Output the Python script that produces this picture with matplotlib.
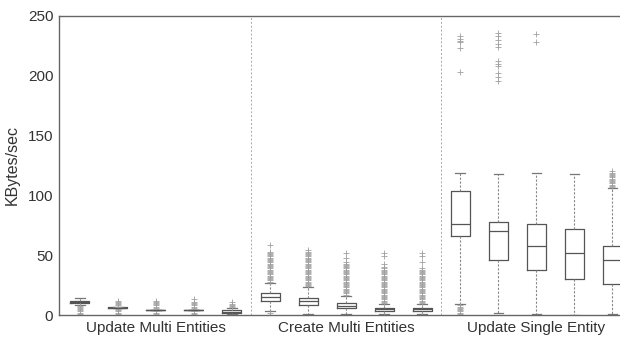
import matplotlib
matplotlib.use('Agg')
import matplotlib.pyplot as plt

plt.rcParams['font.family'] = ['Liberation Sans', 'DejaVu Sans']

GROUPS = ['Update Multi Entities', 'Create Multi Entities', 'Update Single Entity']

# five-number summaries per box, left to right
MEDIANS = [10.9, 6.0, 4.2, 4.2, 2.8,
           14.8, 11.7, 7.5, 5.0, 5.0,
           76, 70, 58, 51.6, 46]
Q1 = [9.8, 5.6, 3.9, 3.9, 2.0,
      11.7, 8.4, 5.6, 3.6, 3.6,
      66, 46, 38, 30, 25.7]
Q3 = [12.0, 6.4, 4.5, 4.5, 4.2,
      18.0, 14.0, 9.8, 6.1, 6.1,
      104, 78, 76, 72, 58]
WHISK_LO = [8.4, 5.6, 3.9, 3.9, 0.5,
            3.3, 0.5, 0.5, 1.0, 1.0,
            9, 2, 0.5, 0, 0.5]
WHISK_HI = [14.0, 6.4, 4.5, 4.5, 5.9,
            27, 23, 16, 9, 9,
            119, 118, 119, 118, 106]

OUTLIERS = [
    [0.5, 2, 3, 4, 5, 6, 7, 7.5],
    [0, 1, 2, 3, 4, 5, 7, 8, 9, 10, 11, 12],
    [0, 1, 2, 3, 5, 6, 7, 8, 9, 10, 11, 12],
    [0, 1, 2, 3, 5, 6, 7, 8, 9, 10, 11, 13],
    [6.5, 7.5, 8.5, 9.5, 11],
    [0, 1.5, 28, 29, 30, 31, 32, 33, 34, 35, 36, 37, 38, 39, 40, 41, 42, 43,
     44, 45, 46, 47, 48, 49, 50, 51, 52, 53, 58.5],
    [24, 25, 26, 27, 28, 29, 30, 31, 32, 33, 34, 35, 36, 37, 38, 39, 40, 41,
     42, 43, 44, 45, 46, 47, 48, 49, 50, 51, 52, 53, 54],
    [17, 18, 19, 20, 21, 22, 23, 24, 25, 26, 27, 28, 29, 30, 31, 32, 33, 34,
     35, 36, 37, 38, 39, 40, 41, 42, 43, 44, 47.6, 52],
    [0, 10, 11, 12, 13, 14, 15, 16, 17, 18, 19, 20, 21, 22, 23, 24, 25, 26,
     27, 28, 29, 30, 31, 32, 33, 34, 35, 36, 37, 38, 39, 40, 43, 49, 52],
    [0, 10, 11, 12, 13, 14, 15, 16, 17, 18, 19, 20, 21, 22, 23, 24, 25, 26,
     27, 28, 29, 30, 31, 32, 33, 34, 35, 36, 37, 38, 39, 44, 49, 52],
    [0, 1, 2, 3, 4, 5, 6, 7, 8, 203, 223, 228, 229, 230.5, 233],
    [195.6, 198.7, 202.6, 208, 209.6, 212.6, 224, 226.6, 230, 233, 235.5],
    [228, 235],
    [],
    [107, 108, 109, 110, 111, 112, 113, 114, 115, 116, 117, 118, 119, 120],
]

stats = []
for i in range(len(MEDIANS)):
    stats.append(dict(med=MEDIANS[i], q1=Q1[i], q3=Q3[i],
                      whislo=WHISK_LO[i], whishi=WHISK_HI[i],
                      fliers=OUTLIERS[i]))

positions = list(range(1, len(stats) + 1))

fig = plt.figure(figsize=(6.2, 3.38), dpi=100)
ax = fig.add_axes([0.095, 0.068, 0.905, 0.885])

line_col = '#555555'
ax.bxp(stats, positions=positions, widths=0.5, showfliers=True,
       boxprops=dict(color=line_col, linewidth=0.9),
       medianprops=dict(color=line_col, linewidth=0.9),
       whiskerprops=dict(color='#888888', linewidth=0.8, linestyle=(0, (2, 1.5))),
       capprops=dict(color='#777777', linewidth=0.9),
       flierprops=dict(marker='+', markeredgecolor='#a0a0a0', markersize=5,
                       markeredgewidth=0.6, linestyle='none'))

for sep in (5.5, 10.5):
    ax.axvline(sep, color='#aaaaaa', linewidth=0.7, linestyle=(0, (2, 2)))

ax.set_xlim(0.45, 15.2)
ax.set_ylim(0, 250)
ax.set_yticks([0, 50, 100, 150, 200, 250])
ax.set_xticks([3, 8, 13])
ax.set_xticklabels(GROUPS)
ax.tick_params(length=0, labelsize=11, colors='#333333', pad=4)
ax.set_ylabel('KBytes/sec', fontsize=11.5, color='#333333', labelpad=6)

for side in ('left', 'top', 'bottom'):
    ax.spines[side].set_color('#666666')
    ax.spines[side].set_linewidth(1.0)
ax.spines['right'].set_visible(False)

fig.savefig('out.png', dpi=100)
